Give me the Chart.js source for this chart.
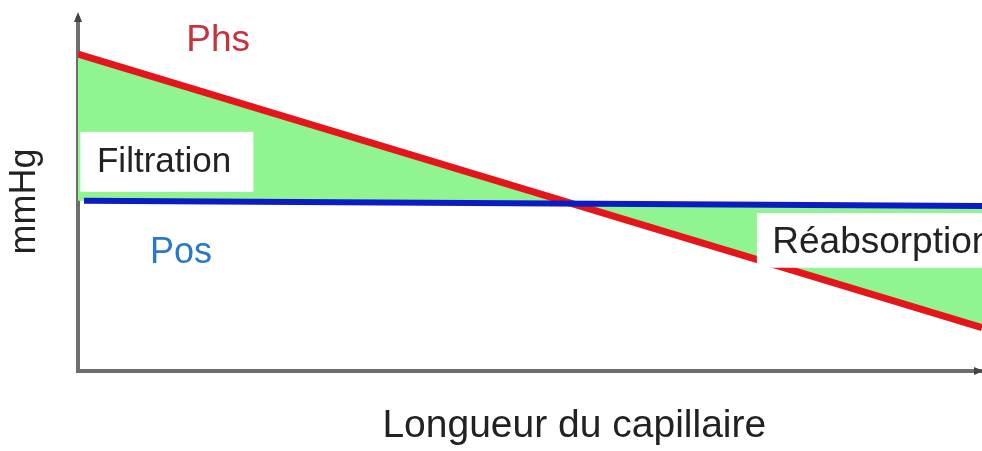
<!DOCTYPE html>
<html><head><meta charset="utf-8">
<script src="https://cdn.jsdelivr.net/npm/chart.js@4"></script>
<style>html,body{margin:0;padding:0;background:#fff;overflow:hidden}</style>
</head><body>
<canvas id="c" width="982" height="451"></canvas>
<script>
// ---- data ----
const lengthStops = [0, 100];          // position along the capillary (%)
const phsValues = [35.9, 4.9];         // hydrostatic pressure (mmHg)
const posStops = [0, 100];
const posValues = [19.3, 18.7];        // oncotic pressure (mmHg)
const seriesNames = ['Phs', 'Pos'];
const zoneNames = ['Filtration', 'Réabsorption'];
const xTitle = 'Longueur du capillaire';
const yTitle = 'mmHg';

const FONT = '"Liberation Sans", Arial, sans-serif';
const RED = '#e4161b', BLUE = '#0c1cc4', GREEN = '#90f590', AXIS = '#6e6e6e';

const phsData = lengthStops.map((x, i) => ({x, y: phsValues[i]}));
const posData = posStops.map((x, i) => ({x, y: posValues[i]}));

// label placements in data units
const boxes = [
  {x0: 0.25, x1: 19.4, y0: 27.1, y1: 20.3},
  {x0: 75.1, x1: 103, y0: 17.9, y1: 11.7}
];
const texts = [
  {t: seriesNames[0], x: 15.5, y: 37.4, c: '#c8323c', size: 37, align: 'center'},
  {t: seriesNames[1], x: 11.4, y: 13.4, c: '#2a78c6', size: 36, align: 'center'},
  {t: zoneNames[0], x: 2.1, y: 23.7, c: '#222222', size: 35, align: 'left'},
  {t: zoneNames[1], x: 76.8, y: 14.5, c: '#222222', size: 37, align: 'left'}
];

const annot = {
  id: 'annot',
  afterDatasetsDraw(chart) {
    const {ctx, scales: {x, y}} = chart;
    ctx.save();
    ctx.fillStyle = '#ffffff';
    boxes.forEach(b => {
      const X0 = x.getPixelForValue(b.x0), X1 = x.getPixelForValue(b.x1);
      const Y0 = y.getPixelForValue(b.y0), Y1 = y.getPixelForValue(b.y1);
      ctx.fillRect(X0, Y0, X1 - X0, Y1 - Y0);
    });
    texts.forEach(t => {
      ctx.font = t.size + 'px ' + FONT;
      ctx.fillStyle = t.c;
      ctx.textAlign = t.align;
      ctx.textBaseline = 'middle';
      ctx.fillText(t.t, x.getPixelForValue(t.x), y.getPixelForValue(t.y));
    });
    ctx.restore();
  },
  afterDraw(chart) {
    const {ctx, chartArea: a, scales: {x, y}} = chart;
    ctx.save();
    ctx.fillStyle = '#444';
    // y arrow
    ctx.beginPath();
    ctx.moveTo(a.left, a.top - 6);
    ctx.lineTo(a.left - 4, a.top + 4);
    ctx.lineTo(a.left + 4, a.top + 4);
    ctx.closePath(); ctx.fill();
    // x arrow
    ctx.beginPath();
    ctx.moveTo(a.right + 2, a.bottom);
    ctx.lineTo(a.right - 8, a.bottom - 4);
    ctx.lineTo(a.right - 8, a.bottom + 4);
    ctx.closePath(); ctx.fill();
    // axis titles
    ctx.fillStyle = '#222222';
    ctx.textAlign = 'center';
    ctx.textBaseline = 'middle';
    ctx.font = '39px ' + FONT;
    ctx.fillText(xTitle, x.getPixelForValue(54.9), 426);
    ctx.translate(25, y.getPixelForValue(19.2));
    ctx.rotate(-Math.PI / 2);
    ctx.font = '36px ' + FONT;
    ctx.fillText(yTitle, 0, 0);
    ctx.restore();
  }
};

new Chart(document.getElementById('c'), {
  type: 'line',
  data: {
    datasets: [
      {label: seriesNames[1], data: posData, borderColor: BLUE, borderWidth: 6,
       pointRadius: 0, fill: false, tension: 0,
       clip: {left: -6, right: 0, top: 0, bottom: 0}},
      {label: seriesNames[0], data: phsData, borderColor: RED, borderWidth: 7,
       pointRadius: 0, tension: 0,
       fill: {target: 0, above: GREEN, below: GREEN}}
    ]
  },
  options: {
    responsive: false,
    animation: false,
    devicePixelRatio: 1,
    layout: {padding: {top: 18, right: 0, bottom: 80, left: 78}},
    plugins: {legend: {display: false}, tooltip: {enabled: false},
              filler: {drawTime: 'beforeDatasetsDraw'}},
    scales: {
      x: {type: 'linear', min: 0, max: 100, display: true,
          grid: {display: false, drawTicks: false},
          border: {display: true, color: AXIS, width: 4},
          ticks: {display: false}},
      y: {type: 'linear', min: 0, max: 40,
          grid: {display: false, drawTicks: false},
          border: {display: true, color: AXIS, width: 4},
          ticks: {display: false},
          title: {display: false}}
    }
  },
  plugins: [annot]
});
</script>
</body></html>
